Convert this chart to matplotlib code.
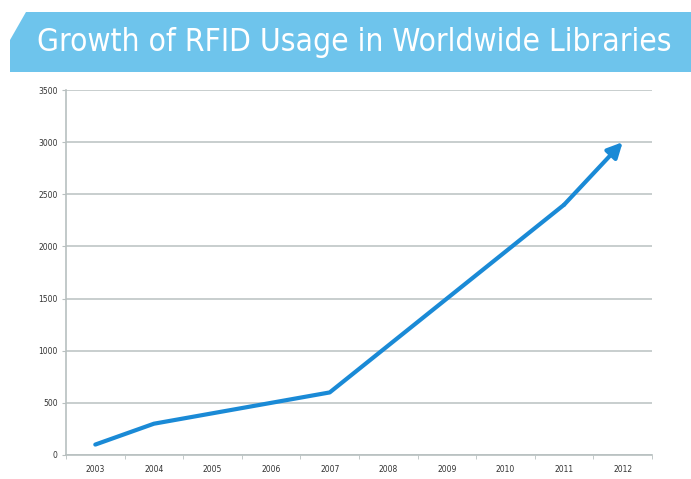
import matplotlib.pyplot as plt
from matplotlib.patches import Polygon

# Data
years = ['2003', '2004', '2005', '2006', '2007', '2008', '2009', '2010', '2011', '2012']
libraries = [100, 300, 400, 500, 600, 1050, 1500, 1950, 2400, 3000]
yticks = [0, 500, 1000, 1500, 2000, 2500, 3000, 3500]

W, H = 691, 479
fig = plt.figure(figsize=(W / 100, H / 100), dpi=100)

# Title banner with cut corner
banner = Polygon([(10 / W, 1 - 40 / H), (26 / W, 1 - 12 / H), (1, 1 - 12 / H),
                  (1, 1 - 72 / H), (10 / W, 1 - 72 / H)],
                 closed=True, transform=fig.transFigure, facecolor='#6ec4ec',
                 edgecolor='none')
fig.patches.append(banner)
title = fig.text(354 / W, 1 - 43 / H, 'Growth of RFID Usage in Worldwide Libraries',
                 ha='center', va='center', color='white', fontsize=25,
                 family='DejaVu Sans', fontstretch='condensed')

# shrink the title to fit the banner width (~637 px)
fig.canvas.draw()
bb = title.get_window_extent()
if bb.width > 637:
    title.set_fontsize(25 * 637 / bb.width)

ax = fig.add_axes([66 / W, 1 - 455 / H, 586 / W, 365 / H])
x = list(range(len(years)))
col = '#1a8ad6'
ax.plot(x[:-1], libraries[:-1], color=col, lw=3.0, solid_capstyle='round')
ax.annotate('', xy=(x[-1], libraries[-1]), xytext=(x[-2], libraries[-2]),
            arrowprops=dict(arrowstyle='-|>,head_length=0.9,head_width=0.45',
                            color=col, lw=3.0, shrinkA=0, shrinkB=0))

ax.set_xlim(-0.5, len(years) - 0.5)
ax.set_ylim(0, 3500)
ax.set_yticks(yticks)
ax.set_yticklabels([str(v) for v in yticks], fontsize=5.5, color='#333333')
ax.set_xticks(x)
ax.set_xticklabels(years, fontsize=5.5, color='#333333')
ax.set_xticks([i - 0.5 for i in range(len(years) + 1)], minor=True)
ax.tick_params(axis='x', which='major', length=0, pad=7)
ax.tick_params(axis='x', which='minor', length=3, color='#b8c0c0')
ax.tick_params(axis='y', length=3, color='#b8c0c0', pad=3)
ax.grid(axis='y', color='#c8cece', lw=1.4)
ax.set_axisbelow(True)
for s in ['top', 'right']:
    ax.spines[s].set_visible(False)
for s in ['left', 'bottom']:
    ax.spines[s].set_color('#b8c0c0')
    ax.spines[s].set_linewidth(1.2)

plt.savefig('out.png', dpi=100)
